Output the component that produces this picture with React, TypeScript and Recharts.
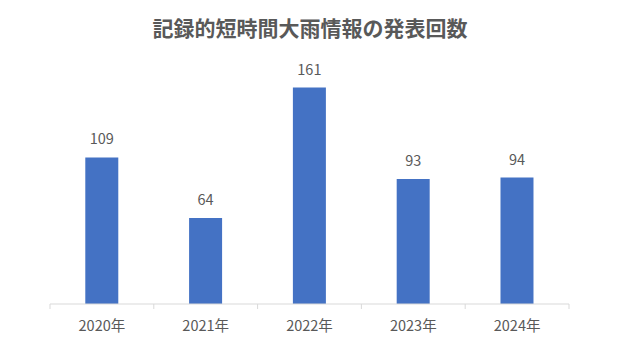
import React from "react";
import { BarChart, Bar, XAxis, YAxis, LabelList } from "recharts";

const years = ["2020年", "2021年", "2022年", "2023年", "2024年"];
const counts = [109, 64, 161, 93, 94];

const data = years.map((year, i) => ({ year, count: counts[i] }));

const W = 620;
const H = 350;
const margin = { top: 62, right: 51, left: 50, bottom: 16 };
const band = (W - margin.left - margin.right) / years.length;
const font = '"Noto Sans CJK JP", "Noto Sans", sans-serif';

const YearTick = (props: any) => {
  const { x, y, payload, index } = props;
  const last = index === years.length - 1;
  return (
    <g>
      <line x1={x - band / 2} x2={x - band / 2} y1={y - 8} y2={y - 3} stroke="#d9d9d9" />
      {last && <line x1={x + band / 2} x2={x + band / 2} y1={y - 8} y2={y - 3} stroke="#d9d9d9" />}
      <text x={x} y={y + 19} textAnchor="middle" fill="#595959" fontSize={14.5} fontFamily={font}>
        {payload.value}
      </text>
    </g>
  );
};

export default function App() {
  return (
    <div style={{ position: "fixed", left: 0, top: 0, width: W, height: H, background: "#fff" }}>
      <div
        style={{
          position: "absolute",
          top: 12,
          width: W,
          textAlign: "center",
          fontFamily: font,
          fontWeight: "bold",
          fontSize: 21,
          color: "#595959",
        }}
      >
        記録的短時間大雨情報の発表回数
      </div>
      <BarChart width={W} height={H} data={data} margin={margin} barCategoryGap="34%">
        <XAxis
          dataKey="year"
          axisLine={{ stroke: "#d9d9d9" }}
          tickLine={false}
          tick={<YearTick />}
          interval={0}
        />
        <YAxis hide domain={[0, 180]} />
        <Bar dataKey="count" fill="#4472c4" isAnimationActive={false}>
          <LabelList
            dataKey="count"
            position="top"
            offset={13}
            fill="#595959"
            fontSize={14.5}
            fontFamily={font}
          />
        </Bar>
      </BarChart>
    </div>
  );
}
